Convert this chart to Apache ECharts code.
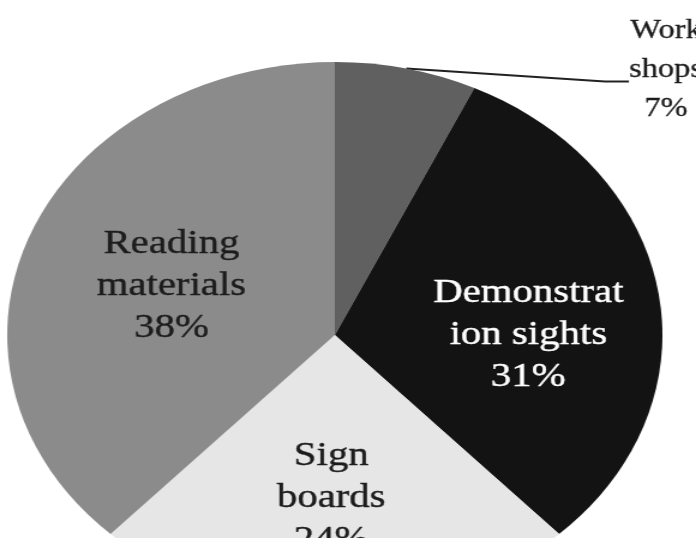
<!DOCTYPE html>
<html>
<head>
<meta charset="utf-8">
<script src="https://cdn.jsdelivr.net/npm/echarts@6/dist/echarts.min.js"></script>
<style>
  html, body { margin: 0; padding: 0; background: #ffffff; overflow: hidden; }
  #wrap { width: 696px; height: 538px; overflow: hidden; position: relative; }
  /* the pie is drawn as a horizontally stretched disc */
  #chart { width: 580px; height: 538px; transform: scaleX(1.2); transform-origin: 0 0; }
</style>
</head>
<body>
<div id="wrap"><div id="chart"></div></div>
<script>
// Share of each information channel (percent)
const categories = ['Work\nshops', 'Demonstrat\nion sights', 'Sign\nboards', 'Reading\nmaterials'];
const shares = [7, 31, 24, 38];

// Slice appearance
const sliceColors = ['#606060', '#131313', '#e6e6e6', '#8b8b8b'];
const labelColors = ['#1c1c1c', '#ffffff', '#1c1c1c', '#1c1c1c'];
const labelOffsets = [null, [23.5, 22], [-3, 23.5], [-6.5, 2]];

const FONT = 'Liberation Serif';

const pieData = categories.map(function (name, i) {
  const item = {
    name: name,
    value: shares[i],
    itemStyle: { color: sliceColors[i] }
  };
  if (i === 0) {
    // outside label; a short spacer line under the text drops the leader line to the "shops" baseline
    item.label = {
      position: 'outside',
      align: 'center',
      padding: [0, 0, 0, 10],
      formatter: function (p) {
        return p.name.split('\n').map(function (s) { return '{t|' + s + '}'; }).join('\n') +
          '\n{t|' + p.value + '%}\n{s| }';
      },
      rich: {
        t: {
          fontFamily: FONT, fontSize: 27, lineHeight: 39, align: 'center',
          color: labelColors[i], textBorderColor: labelColors[i], textBorderWidth: 0.3
        },
        s: { fontFamily: FONT, fontSize: 10, lineHeight: 24 }
      }
    };
    item.labelLine = {
      show: true,
      length: 10,
      length2: 20,
      smooth: false,
      lineStyle: { color: '#222222', width: 2 }
    };
  } else {
    item.label = {
      position: 'inside',
      color: labelColors[i],
      textBorderColor: labelColors[i],
      textBorderWidth: 0.4,
      fontFamily: FONT,
      fontSize: 34,
      lineHeight: 42,
      align: 'center',
      offset: labelOffsets[i]
    };
    item.labelLine = { show: false };
  }
  return item;
});

const chart = echarts.init(document.getElementById('chart'), null, { renderer: 'canvas' });

chart.setOption({
  animation: false,
  backgroundColor: '#ffffff',
  textStyle: { fontFamily: FONT },
  series: [{
    type: 'pie',
    center: [279, 335],
    radius: [0, 273],
    startAngle: 90,
    clockwise: true,
    avoidLabelOverlap: false,
    emphasis: { disabled: true },
    itemStyle: { borderWidth: 0 },
    label: {
      fontFamily: FONT,
      formatter: function (p) { return p.name + '\n' + p.value + '%'; }
    },
    labelLayout: function (params) {
      if (params.dataIndex === 0) {
        return { x: 550, y: 82, align: 'center', verticalAlign: 'middle' };
      }
      return {};
    },
    data: pieData
  }]
});
</script>
</body>
</html>
